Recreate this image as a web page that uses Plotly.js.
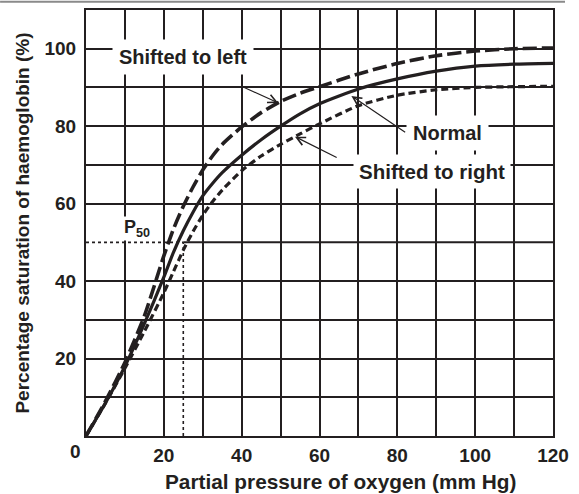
<!DOCTYPE html>
<html>
<head>
<meta charset="utf-8">
<script src="https://cdn.plot.ly/plotly-3.0.1.min.js"></script>
<style>html,body{margin:0;padding:0;background:#fff;}#chart{width:579px;height:494px;}</style>
</head>
<body>
<div id="chart"></div>
<script>
// Partial pressure of oxygen (mm Hg)
var pressure  = [0, 5, 10, 15, 20, 22.5, 25, 27.5, 30, 32.5, 35, 40, 45, 50, 55, 60, 70, 80, 90, 100, 110, 120];
// Percentage saturation of haemoglobin (%)
var normalSat = [0, 8.5, 18, 29, 41, 47.5, 53, 57.8, 62, 65.2, 68, 72.5, 76.5, 80, 83.2, 85.8, 89.6, 92.2, 94.2, 95.5, 96, 96.2];
var leftSat   = [0, 9, 19, 31, 46.5, 53.5, 59.3, 64.3, 68.7, 72.3, 75.3, 79.8, 83.5, 86.4, 88.5, 90.2, 93.5, 96.2, 98.2, 99.4, 100, 100.2];
var rightSat  = [0, 8.5, 17.5, 27, 37, 42.5, 48, 52.8, 57, 60.5, 63.5, 68.5, 72.3, 75.3, 78, 80.6, 85.3, 88, 89.4, 90, 90.2, 90.3];

var xTickVals = [0, 10, 20, 30, 40, 50, 60, 70, 80, 90, 100, 110, 120];
var xTickText = ['', '', '20', '', '40', '', '60', '', '80', '', '100', '', '120'];
var yTickVals = [0, 10, 20, 30, 40, 60, 70, 80, 90, 100, 110];
var yTickText = ['', '', '20', '', '40', '60', '', '80', '', '100', ''];

var p50Pressure = 25;
var p50Sat = 50;

var FONT = 'Liberation Sans, Arial, Helvetica, sans-serif';
var INK = '#231f20';

var traces = [
  {x: pressure, y: rightSat, mode: 'lines', name: 'Shifted to right',
   line: {color: INK, width: 3.2, dash: '7px,4px', shape: 'spline', smoothing: 0.6}},
  {x: pressure, y: normalSat, mode: 'lines', name: 'Normal',
   line: {color: INK, width: 3.2, shape: 'spline', smoothing: 0.6}},
  {x: pressure, y: leftSat, mode: 'lines', name: 'Shifted to left',
   line: {color: INK, width: 3.6, dash: '14px,5px', shape: 'spline', smoothing: 0.6}}
];

var labelFont = {family: FONT, size: 20, color: INK, weight: 700};
var tickFont = {family: FONT, size: 19, color: INK, weight: 700};

var layout = {
  width: 579, height: 494,
  margin: {l: 86, r: 26, t: 10, b: 58},
  paper_bgcolor: '#ffffff', plot_bgcolor: '#ffffff',
  showlegend: false,
  xaxis: {
    range: [0, 120], tickvals: xTickVals, ticktext: xTickText,
    showgrid: true, gridcolor: INK, gridwidth: 2,
    showline: true, linecolor: INK, linewidth: 2, mirror: true,
    zeroline: false, ticks: '', ticklabelstandoff: 1,
    tickfont: tickFont
  },
  yaxis: {
    range: [0, 110], tickvals: yTickVals, ticktext: yTickText,
    showgrid: true, gridcolor: INK, gridwidth: 2,
    showline: true, linecolor: INK, linewidth: 2, mirror: true,
    zeroline: false, ticks: '', ticklabelstandoff: 4,
    tickfont: tickFont,
    title: {text: 'Percentage saturation of haemoglobin (%)', font: {family: FONT, size: 19, color: INK, weight: 700}, standoff: 10}
  },
  shapes: [
    {type: 'line', xref: 'paper', yref: 'paper', x0: -0.184, x1: 1.0257, y0: 1.0195, y1: 1.0195,
     line: {color: '#8a8a8a', width: 2}},
    {type: 'line', xref: 'x', yref: 'y', x0: p50Pressure, x1: 120, y0: p50Sat, y1: p50Sat, layer: 'below',
     line: {color: INK, width: 2}},
    {type: 'line', xref: 'x', yref: 'y', x0: 0, x1: p50Pressure, y0: p50Sat, y1: p50Sat, layer: 'below',
     line: {color: INK, width: 1.6, dash: 'dot'}},
    {type: 'line', xref: 'x', yref: 'y', x0: p50Pressure, x1: p50Pressure, y0: 0, y1: p50Sat, layer: 'below',
     line: {color: INK, width: 1.6, dash: 'dot'}}
  ],
  annotations: [
    {x: 0.545, y: -0.136, xref: 'paper', yref: 'paper', text: 'Partial pressure of oxygen (mm Hg)',
     showarrow: false, xanchor: 'center', yanchor: 'bottom', borderpad: 0,
     font: {family: FONT, size: 20.8, color: INK, weight: 700}},
    {x: 0, y: 0, xref: 'x', yref: 'y', text: '0', showarrow: false, xanchor: 'right', yanchor: 'top',
     xshift: -3, yshift: -3, font: tickFont},
    {x: 9.5, y: p50Sat, xref: 'x', yref: 'y', text: 'P<sub>50</sub>', showarrow: false,
     xanchor: 'left', yanchor: 'bottom', yshift: 1, bgcolor: '#ffffff', borderpad: 0,
     font: {family: FONT, size: 18, color: INK, weight: 700}},
    // arrows
    {x: 49.4, y: 86, ax: 40, ay: 90.3, axref: 'x', ayref: 'y', xref: 'x', yref: 'y', text: '',
     showarrow: true, arrowhead: 5, arrowsize: 1.4, arrowwidth: 1.2, arrowcolor: INK},
    {x: 68.2, y: 87.8, ax: 82.4, ay: 78.2, axref: 'x', ayref: 'y', xref: 'x', yref: 'y', text: '',
     showarrow: true, arrowhead: 5, arrowsize: 1.4, arrowwidth: 1.2, arrowcolor: INK},
    {x: 53.7, y: 77.3, ax: 64.8, ay: 71.7, axref: 'x', ayref: 'y', xref: 'x', yref: 'y', text: '',
     showarrow: true, arrowhead: 5, arrowsize: 1.4, arrowwidth: 1.2, arrowcolor: INK},
    // labels
    {x: 24.9, y: 97.9, xref: 'x', yref: 'y', text: 'Shifted to left', showarrow: false,
     bgcolor: '#ffffff', borderpad: 6, font: labelFont},
    {x: 92.8, y: 78.2, xref: 'x', yref: 'y', text: 'Normal', showarrow: false,
     bgcolor: '#ffffff', borderpad: 6, font: labelFont},
    {x: 88.9, y: 68.2, xref: 'x', yref: 'y', text: 'Shifted to right', showarrow: false,
     bgcolor: '#ffffff', borderpad: 5, font: {family: FONT, size: 20.5, color: INK, weight: 700}}
  ]
};

Plotly.newPlot('chart', traces, layout, {staticPlot: true, displayModeBar: false});
</script>
</body>
</html>
